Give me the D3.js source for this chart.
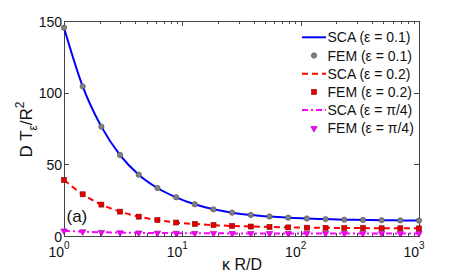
<!DOCTYPE html>
<html><head><meta charset="utf-8">
<script src="https://cdn.jsdelivr.net/npm/d3@7"></script>
<style>body{margin:0;background:#fff}svg{display:block}text{font-family:"Liberation Sans",Arial,sans-serif}</style>
</head><body><svg id="c" width="463" height="279"></svg>
<script>
const kappaExp = d3.range(20).map(k => 3 * k / 19);
const kappa = kappaExp.map(e => Math.pow(10, e));
const femEps01 = [145.3, 104.4, 76.3, 56.5, 42.8, 33.5, 27.0, 22.1, 18.6, 16.3, 14.7, 13.6, 12.8, 12.2, 11.8, 11.4, 11.2, 11.0, 10.9, 10.8];
const femEps02 = [39.1, 29.1, 21.9, 17.0, 13.5, 11.1, 9.4, 8.4, 7.6, 7.0, 6.6, 6.3, 6.0, 5.8, 5.7, 5.6, 5.5, 5.4, 5.4, 5.3];
const femEpsPi4 = [3.6, 3.0, 2.6, 2.4, 2.2, 2.1, 2.0, 1.9, 1.9, 1.8, 1.8, 1.8, 1.8, 1.8, 1.8, 1.8, 1.8, 1.8, 1.8, 1.8];
const yTicks = [0, 50, 100, 150];
const xTicks = [1, 10, 100, 1000];
const legendLabels = ["SCA (ε = 0.1)", "FEM (ε = 0.1)", "SCA (ε = 0.2)", "FEM (ε = 0.2)", "SCA (ε = π/4)", "FEM (ε = π/4)"];

const svg = d3.select("#c");
const L = 64, R = 419, T = 21, B = 236;
const x = d3.scaleLog().domain([1, 1000]).range([L, R]);
const y = d3.scaleLinear().domain([0, 150]).range([B, T]);
const axisCol = "#444";

svg.append("rect").attr("x", L + 0.5).attr("y", T + 0.5).attr("width", R - L).attr("height", B - T)
  .attr("fill", "none").attr("stroke", axisCol).attr("stroke-width", 1);

const minor = [];
for (let d = 1; d < 1000; d *= 10) for (let m = 2; m <= 9; m++) minor.push(d * m);
const tg = svg.append("g").attr("stroke", axisCol).attr("stroke-width", 1);
minor.forEach(v => {
  const px = Math.round(x(v)) + 0.5;
  tg.append("line").attr("x1", px).attr("x2", px).attr("y1", B).attr("y2", B - 3);
  tg.append("line").attr("x1", px).attr("x2", px).attr("y1", T).attr("y2", T + 3);
});
xTicks.forEach(v => {
  const px = Math.round(x(v)) + 0.5;
  tg.append("line").attr("x1", px).attr("x2", px).attr("y1", B).attr("y2", B - 5);
  tg.append("line").attr("x1", px).attr("x2", px).attr("y1", T).attr("y2", T + 5);
});
yTicks.forEach(v => {
  const py = Math.round(y(v)) + 0.5;
  tg.append("line").attr("x1", L).attr("x2", L + 5).attr("y1", py).attr("y2", py);
  tg.append("line").attr("x1", R).attr("x2", R - 5).attr("y1", py).attr("y2", py);
});

yTicks.forEach(v => {
  svg.append("text").attr("x", L - 2).attr("y", y(v) + 5.5).attr("text-anchor", "end")
    .attr("font-size", 14).attr("fill", "#111").text(v);
});
xTicks.forEach((v, i) => {
  const t = svg.append("text").attr("x", x(v) - 5).attr("y", 256.5).attr("text-anchor", "middle")
    .attr("font-size", 14).attr("fill", "#111");
  t.append("tspan").text("10");
  t.append("tspan").attr("dy", -8).attr("font-size", 10).text(i);
});

svg.append("text").attr("x", 242).attr("y", 269.5).attr("text-anchor", "middle")
  .attr("font-size", 16).attr("fill", "#111").text("κ R/D");
const yl = svg.append("text").attr("transform", "translate(32,129.5) rotate(-90)")
  .attr("text-anchor", "middle").attr("font-size", 17).attr("fill", "#111");
yl.append("tspan").text("D T");
yl.append("tspan").attr("dy", 5).attr("font-size", 12).text("ε");
yl.append("tspan").attr("dy", -5).text("/R");
yl.append("tspan").attr("dy", -8).attr("font-size", 12).text("2");

svg.append("text").attr("x", 66.5).attr("y", 221.5).attr("font-size", 17).attr("fill", "#111").text("(a)");

const pts = arr => arr.map((v, i) => [kappa[i], v]);
const line = d3.line().x(d => x(d[0])).y(d => y(d[1])).curve(d3.curveMonotoneX);

const plot = svg.append("g");
plot.append("path").attr("d", line(pts(femEpsPi4))).attr("fill", "none")
  .attr("stroke", "#ff00ff").attr("stroke-width", 2).attr("stroke-dasharray", "6,3,2,3");
plot.append("path").attr("d", line(pts(femEps02))).attr("fill", "none")
  .attr("stroke", "#ff0000").attr("stroke-width", 2).attr("stroke-dasharray", "6,4");
plot.append("path").attr("d", line(pts(femEps01))).attr("fill", "none")
  .attr("stroke", "#0000ff").attr("stroke-width", 2);

const tri = d3.symbol().type(d3.symbolTriangle).size(18);
function drawCircle(g, cx, cy) {
  g.append("circle").attr("cx", cx).attr("cy", cy).attr("r", 2.7)
    .attr("fill", "#808080").attr("stroke", "#505050").attr("stroke-width", 0.6);
}
function drawSquare(g, cx, cy) {
  g.append("rect").attr("x", cx - 2.5).attr("y", cy - 2.5).attr("width", 5).attr("height", 5)
    .attr("fill", "#e00000").attr("stroke", "#900000").attr("stroke-width", 0.6);
}
function drawTri(g, cx, cy) {
  g.append("path").attr("d", tri).attr("transform", `translate(${cx},${cy}) rotate(180)`)
    .attr("fill", "#ff00ff").attr("stroke", "#900090").attr("stroke-width", 0.6);
}
pts(femEps01).forEach(d => drawCircle(plot, x(d[0]), y(d[1])));
pts(femEps02).forEach(d => drawSquare(plot, x(d[0]), y(d[1])));
pts(femEpsPi4).forEach(d => drawTri(plot, x(d[0]), y(d[1])));

const lg = svg.append("g");
const ly0 = 37.3, ldy = 18.2;
legendLabels.forEach((lab, i) => {
  const yy = ly0 + i * ldy;
  if (i === 0) lg.append("line").attr("x1", 302).attr("x2", 326).attr("y1", yy).attr("y2", yy).attr("stroke", "#0000ff").attr("stroke-width", 2);
  if (i === 2) lg.append("line").attr("x1", 302).attr("x2", 326).attr("y1", yy).attr("y2", yy).attr("stroke", "#ff0000").attr("stroke-width", 2).attr("stroke-dasharray", "6,4");
  if (i === 4) lg.append("line").attr("x1", 302).attr("x2", 326).attr("y1", yy).attr("y2", yy).attr("stroke", "#ff00ff").attr("stroke-width", 2).attr("stroke-dasharray", "6,3,2,3");
  if (i === 1) drawCircle(lg, 314, yy);
  if (i === 3) drawSquare(lg, 314, yy);
  if (i === 5) drawTri(lg, 314, yy);
  lg.append("text").attr("x", 327.5).attr("y", yy + 5).attr("font-size", 14).attr("fill", "#111").text(lab);
});
</script></body></html>
